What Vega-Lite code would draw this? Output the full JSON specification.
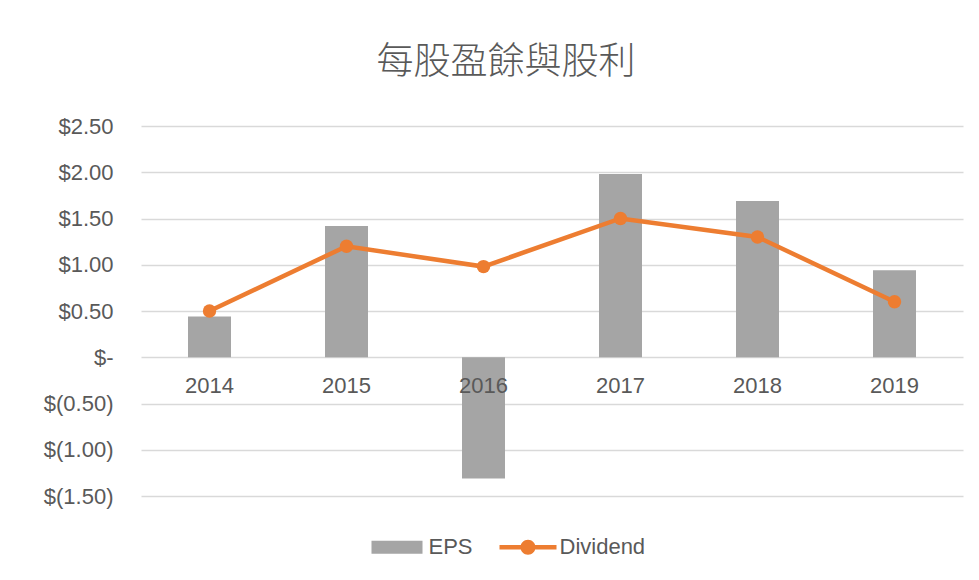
{
  "$schema": "https://vega.github.io/schema/vega-lite/v6.json",
  "width": 822,
  "height": 370,
  "autosize": {"type": "none"},
  "padding": {"left": 141, "top": 126, "right": 16, "bottom": 84},
  "background": "white",
  "title": {
    "text": "每股盈餘與股利",
    "font": "Noto Sans CJK TC",
    "fontSize": 37,
    "fontWeight": 300,
    "color": "#595959",
    "anchor": "middle",
    "frame": "group",
    "baseline": "alphabetic",
    "dx": -46,
    "dy": 47,
    "offset": 51
  },
  "data": {
    "values": [
      {"year": "2014", "EPS": 0.44, "Dividend": 0.50},
      {"year": "2015", "EPS": 1.42, "Dividend": 1.20},
      {"year": "2016", "EPS": -1.31, "Dividend": 0.98},
      {"year": "2017", "EPS": 1.98, "Dividend": 1.50},
      {"year": "2018", "EPS": 1.69, "Dividend": 1.30},
      {"year": "2019", "EPS": 0.94, "Dividend": 0.60}
    ]
  },
  "encoding": {
    "x": {
      "field": "year",
      "type": "ordinal",
      "scale": {"paddingInner": 0, "paddingOuter": 0},
      "axis": {
        "title": null,
        "labelAngle": 0,
        "offset": -138.5,
        "domain": false,
        "ticks": false,
        "grid": false,
        "labelPadding": 18,
        "labelFont": "Liberation Sans",
        "labelFontSize": 22,
        "labelColor": "#595959",
        "zindex": 1
      }
    }
  },
  "layer": [
    {
      "mark": {"type": "bar", "size": 43},
      "encoding": {
        "y": {
          "field": "EPS",
          "type": "quantitative",
          "scale": {"domain": [-1.5, 2.5], "nice": false, "zero": false},
          "axis": {
            "title": null,
            "values": [-1.5, -1, -0.5, 0, 0.5, 1, 1.5, 2, 2.5],
            "labelExpr": "datum.value == 0 ? '$-\u00a0\u00a0' : (datum.value < 0 ? '$(' + format(-datum.value, '.2f') + ')' : '$' + format(datum.value, '.2f'))",
            "domain": false,
            "ticks": false,
            "grid": true,
            "gridColor": "#D9D9D9",
            "gridWidth": 1.5,
            "labelPadding": 28,
            "labelFont": "Liberation Sans",
            "labelFontSize": 22,
            "labelColor": "#595959"
          }
        },
        "color": {
          "datum": "EPS",
          "scale": {"domain": ["EPS", "Dividend"], "range": ["#A5A5A5", "#ED7D31"]},
          "legend": {
            "orient": "none",
            "legendX": 227.5,
            "legendY": 392.5,
            "direction": "horizontal",
            "title": null,
            "padding": 0,
            "labelFont": "Liberation Sans",
            "labelFontSize": 22,
            "labelColor": "#595959",
            "labelOffset": 3,
            "columnPadding": 26,
            "symbolSize": 3249,
            "encode": {
              "symbols": {
                "update": {
                  "shape": {"signal": "datum.value === 'EPS' ? 'M-0.895,-0.228H0.895V0.228H-0.895Z' : 'M-1,-0.08H1V0.08H-1Z M0.263,0A0.263,0.263 0 1,1 -0.263,0A0.263,0.263 0 1,1 0.263,0Z'"},
                  "fill": {"signal": "datum.value === 'EPS' ? '#A5A5A5' : '#ED7D31'"},
                  "stroke": {"value": "transparent"},
                  "strokeWidth": {"value": 0},
                  "opacity": {"value": 1},
                  "fillOpacity": {"value": 1}
                }
              }
            }
          }
        }
      }
    },
    {
      "mark": {"type": "line", "strokeWidth": 4.5, "point": {"filled": true, "size": 180, "opacity": 1}},
      "encoding": {
        "y": {"field": "Dividend", "type": "quantitative"},
        "color": {"datum": "Dividend"}
      }
    }
  ],
  "config": {
    "view": {"stroke": null}
  }
}
